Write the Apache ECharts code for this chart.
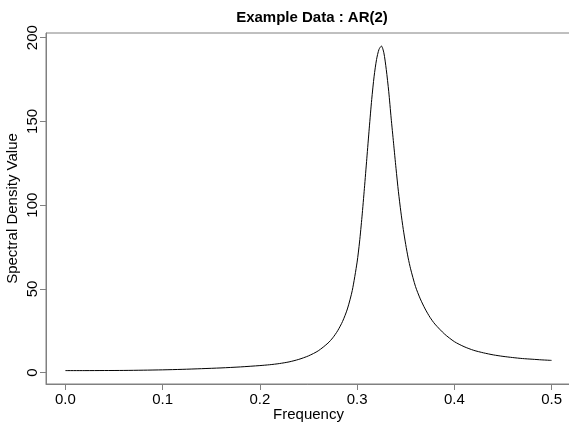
<!DOCTYPE html>
<html>
<head>
<meta charset="utf-8">
<script src="https://cdn.jsdelivr.net/npm/echarts@6/dist/echarts.min.js"></script>
<style>
html,body{margin:0;padding:0;background:#fff;}
#chart{width:569px;height:426px;}
</style>
</head>
<body>
<div id="chart"></div>
<script>
var titleText = "Example Data : AR(2)";
var xName = "Frequency";
var yName = "Spectral Density Value";
var xTicks = [0.0, 0.1, 0.2, 0.3, 0.4, 0.5];
var yTicks = [0, 50, 100, 150, 200];
var frequency = [0.00,0.02,0.04,0.06,0.08,0.10,0.12,0.14,0.16,0.18,0.20,0.21,0.22,0.23,0.24,0.25,0.26,0.27,0.275,0.28,0.285,0.29,0.295,0.30,0.3025,0.305,0.3075,0.31,0.3125,0.315,0.3175,0.32,0.3225,0.325,0.3275,0.33,0.3325,0.335,0.3375,0.34,0.3425,0.345,0.3475,0.35,0.3525,0.355,0.36,0.365,0.37,0.375,0.38,0.39,0.40,0.41,0.42,0.43,0.44,0.45,0.46,0.47,0.48,0.49,0.50];
var density = [1.2,1.2,1.25,1.3,1.45,1.65,1.95,2.35,2.8,3.4,4.2,4.7,5.4,6.4,7.9,10.0,13.0,17.6,20.8,25,30.5,38,49,66,78,93,110,128,146,163,177,187,193,195,191,181,168,152,137,122,108,96,85.5,76.5,68.5,62,51.5,44,38,33,29,23,18.5,15.5,13.3,11.8,10.6,9.7,9.0,8.4,8.0,7.6,7.3];

var points = frequency.map(function(f, i){ return [f, density[i]]; });
var axisGray = '#808080';
var font = 'Liberation Sans, Arial, sans-serif';

var chart = echarts.init(document.getElementById('chart'), null, {renderer:'canvas'});
chart.setOption({
  animation:false,
  backgroundColor:'#ffffff',
  title:{
    text:titleText, left:307, top:5, textAlign:'center',
    textStyle:{fontFamily:font, fontSize:15, fontWeight:'bold', color:'#000'}
  },
  grid:{left:46, top:33, width:525, height:351, show:true, borderColor:axisGray, borderWidth:1,
    containLabel:false, outerBoundsMode:'none'},
  xAxis:{
    type:'value', min:-0.02, max:0.52,
    name:xName, nameLocation:'middle', nameGap:23, nameMoveOverlap:false,
    nameTextStyle:{fontFamily:font, fontSize:15, color:'#000'},
    axisLine:{show:true, onZero:false, lineStyle:{color:axisGray, width:1}},
    axisTick:{show:true, customValues:xTicks, length:6, inside:false, lineStyle:{color:axisGray}},
    axisLabel:{show:true, customValues:xTicks, margin:8, fontFamily:font, fontSize:15, color:'#000',
      formatter:function(v){ return v.toFixed(1); }},
    splitLine:{show:false}
  },
  yAxis:{
    type:'value', min:-6.8, max:202.8,
    name:yName, nameLocation:'middle', nameGap:26, nameRotate:90, nameMoveOverlap:false,
    nameTextStyle:{fontFamily:font, fontSize:15, color:'#000'},
    axisLine:{show:true, onZero:false, lineStyle:{color:axisGray, width:1}},
    axisTick:{show:true, customValues:yTicks, length:6, inside:false, lineStyle:{color:axisGray}},
    axisLabel:{show:true, customValues:yTicks, rotate:90, margin:6, fontFamily:font, fontSize:15, color:'#000'},
    splitLine:{show:false}
  },
  series:[{
    type:'line', data:points, showSymbol:false, smooth:0.25,
    lineStyle:{color:'#000', width:1}, clip:true
  }]
});
</script>
</body>
</html>
